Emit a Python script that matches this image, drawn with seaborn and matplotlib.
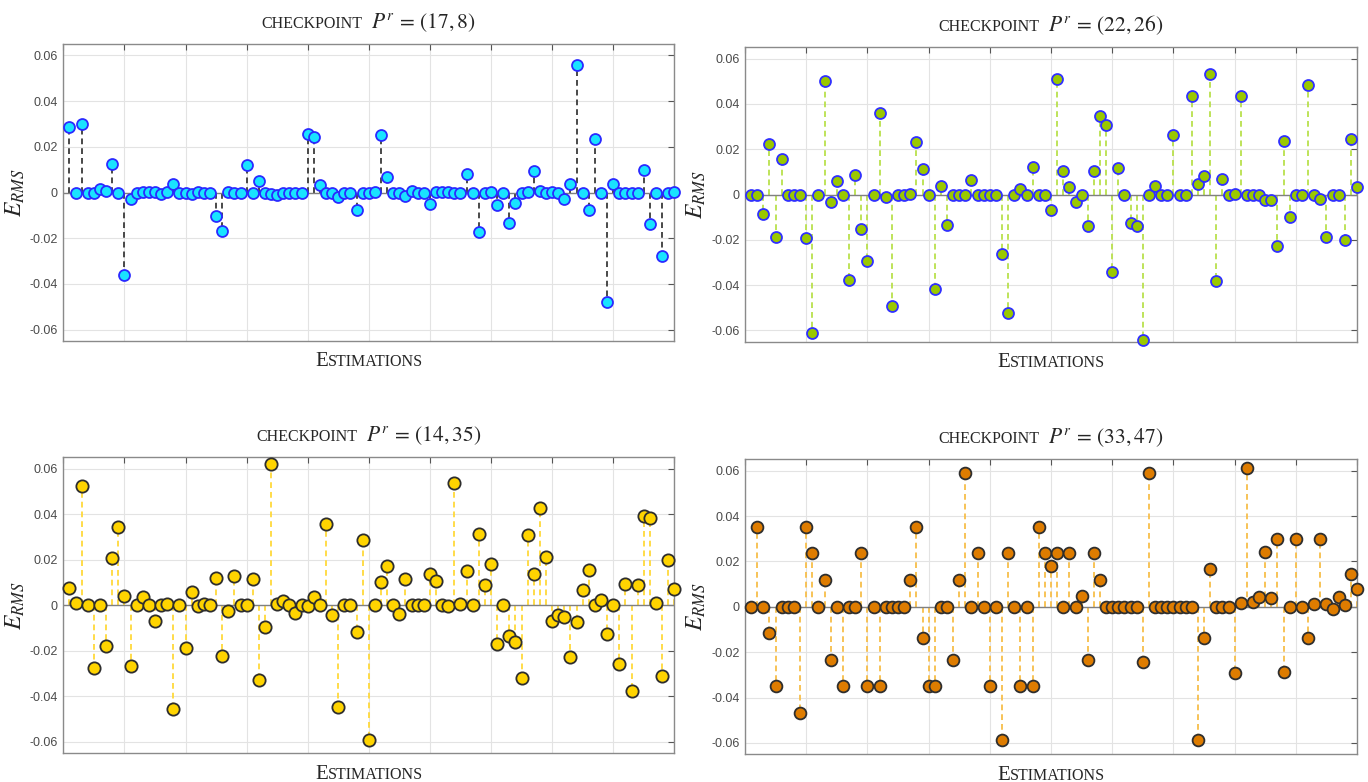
import numpy as np
import pandas as pd
import seaborn as sns
import matplotlib.pyplot as plt
from matplotlib.offsetbox import TextArea, HPacker, AnchoredOffsetbox
from matplotlib.ticker import FuncFormatter

# estimation index (x axis)
estimations = np.arange(1, 101)

# E_RMS per checkpoint
erms_17_8 = [
    0.0287, 0, 0.0299, 0, 0, 0.0016, 0.0007, 0.0126, 0, -0.0359,
    -0.0030, 0, 0.0003, 0.0004, 0.0003, -0.0005, 0.0002, 0.0037, 0, 0,
    -0.0005, 0.0004, 0, 0, -0.0103, -0.0167, 0.0004, 0, 0, 0.0120,
    0, 0.0051, -0.0003, -0.0006, -0.0009, 0, 0, 0, 0, 0.0258,
    0.0242, 0.0032, 0, 0, -0.0020, 0, 0, -0.0078, 0, 0,
    0.0003, 0.0252, 0.0066, 0, 0, -0.0015, 0.0006, 0, 0, -0.0050,
    0.0003, 0.0003, 0.0003, -0.0003, -0.0004, 0.0080, 0, -0.0174, 0, 0.0003,
    -0.0053, 0, -0.0135, -0.0048, -0.0003, 0.0003, 0.0095, 0.0006, 0, 0.0003,
    0, -0.0029, 0.0037, 0.0557, 0, -0.0078, 0.0234, 0, -0.0479, 0.0037,
    0, 0, 0, 0, 0.0100, -0.0136, 0, -0.0280, -0.0004, 0.0003,
]
erms_22_26 = [
    0, 0, -0.0085, 0.0224, -0.0189, 0.0155, 0, 0, 0, -0.0191,
    -0.0612, 0, 0.0500, -0.0032, 0.0059, 0, -0.0376, 0.0084, -0.0154, -0.0295,
    0, 0.0361, -0.0012, -0.0494, 0, 0, 0.0003, 0.0233, 0.0114, 0,
    -0.0418, 0.0037, -0.0135, 0, -0.0002, 0, 0.0062, -0.0003, 0, 0,
    0, -0.0263, -0.0521, 0, 0.0026, 0, 0.0122, 0, 0, -0.0070,
    0.0510, 0.0104, 0.0035, -0.0035, 0, -0.0141, 0.0103, 0.0345, 0.0308, -0.0343,
    0.0119, 0, -0.0126, -0.0138, -0.0644, 0, 0.0037, 0, 0, 0.0264,
    0, 0, 0.0433, 0.0047, 0.0082, 0.0531, -0.0380, 0.0070, 0, 0.0004,
    0.0433, 0, 0, 0, -0.0022, -0.0025, -0.0227, 0.0238, -0.0100, 0,
    0, 0.0484, 0, -0.0018, -0.0188, 0, 0, -0.0202, 0.0244, 0.0032,
]
erms_14_35 = [
    0.0075, 0.0010, 0.0523, 0, -0.0275, 0, -0.0177, 0.0208, 0.0344, 0.0042,
    -0.0268, 0, 0.0037, 0, -0.0069, 0, 0.0004, -0.0455, 0, -0.0186,
    0.0057, -0.0004, 0.0007, 0, 0.0119, -0.0224, -0.0026, 0.0127, 0, 0,
    0.0114, -0.0327, -0.0094, 0.0622, 0.0004, 0.0018, 0, -0.0035, 0, -0.0003,
    0.0035, 0, 0.0359, -0.0041, -0.0448, 0, 0, -0.0117, 0.0285, -0.0593,
    0, 0.0101, 0.0173, 0, -0.0040, 0.0117, 0, 0, 0, 0.0139,
    0.0105, 0, -0.0003, 0.0537, 0.0004, 0.0151, 0, 0.0312, 0.0089, 0.0183,
    -0.0168, 0, -0.0136, -0.0163, -0.0319, 0.0309, 0.0138, 0.0429, 0.0212, -0.0069,
    -0.0044, -0.0053, -0.0227, -0.0075, 0.0067, 0.0154, 0, 0.0022, -0.0126, 0,
    -0.0256, 0.0095, -0.0375, 0.0089, 0.0392, 0.0385, 0.0012, -0.0309, 0.0201, 0.0072,
]
erms_33_47 = [
    0, 0.0354, 0, -0.0117, -0.0351, 0, 0, 0, -0.0468, 0.0354,
    0.0237, 0, 0.0120, -0.0234, 0, -0.0351, 0, 0, 0.0237, -0.0351,
    0, -0.0351, 0, 0, 0, 0, 0.0120, 0.0354, -0.0139, -0.0351,
    -0.0351, 0, 0, -0.0234, 0.0120, 0.0589, 0, 0.0237, 0, -0.0351,
    0, -0.0585, 0.0237, 0, -0.0351, 0, -0.0351, 0.0354, 0.0237, 0.0179,
    0.0237, 0, 0.0237, 0, 0.0048, -0.0233, 0.0237, 0.0120, 0, 0,
    0, 0, 0, 0, -0.0244, 0.0589, 0, 0, 0, 0,
    0, 0, 0, -0.0585, -0.0139, 0.0168, 0, 0, 0, -0.0290,
    0.0018, 0.0613, 0.0020, 0.0045, 0.0241, 0.0041, 0.0297, -0.0288, 0, 0.0297,
    0, -0.0138, 0.0013, 0.0297, 0.0012, -0.0009, 0.0044, 0.0009, 0.0143, 0.0080,
]

checkpoints = ["(17,8)", "(22,26)", "(14,35)", "(33,47)"]
yticks = [-0.06, -0.04, -0.02, 0, 0.02, 0.04, 0.06]

sns.set_theme(style="whitegrid")
plt.rcParams["font.family"] = ["Liberation Sans", "DejaVu Sans"]
plt.rcParams["mathtext.fontset"] = "stix"

# (data, fill, edge, stem colour, marker area, axes rect)
panels = [
    (erms_17_8, "#19e3ff", "#2a2aff", "#3a3a3a", 62, [0.0463, 0.5639, 0.4466, 0.3798]),
    (erms_22_26, "#9ac800", "#3030ff", "#b9e04c", 62, [0.5446, 0.5630, 0.4474, 0.3765]),
    (erms_14_35, "#ffd400", "#2e2e2e", "#ffd93a", 78, [0.0463, 0.0367, 0.4466, 0.3785]),
    (erms_33_47, "#de7c00", "#2e2e2e", "#f7be4a", 72, [0.5446, 0.0354, 0.4474, 0.3772]),
]


def small_caps(ax, big, small, tail, y, loc, big_size, small_size):
    parts = []
    if big:
        parts.append(TextArea(big, textprops=dict(fontsize=big_size, family="Liberation Serif")))
    parts.append(TextArea(small, textprops=dict(fontsize=small_size, family="Liberation Serif")))
    if tail:
        parts.append(TextArea(tail, textprops=dict(fontsize=big_size, family="Liberation Serif")))
    box = HPacker(children=parts, align="baseline", pad=0, sep=0 if big else 6)
    anchored = AnchoredOffsetbox(loc=loc, child=box, pad=0, borderpad=0, frameon=False,
                                 bbox_to_anchor=(0.5, y), bbox_transform=ax.transAxes)
    ax.add_artist(anchored)


fig = plt.figure(figsize=(13.68, 7.82), dpi=100)

for (vals, fill, edge, stem, size, rect), cp in zip(panels, checkpoints):
    ax = fig.add_axes(rect)
    df = pd.DataFrame({"estimation": estimations, "erms": vals})

    ax.vlines(df["estimation"], 0, df["erms"], colors=stem, linestyles=(0, (3.2, 2.2)),
              linewidth=1.3, zorder=2)
    ax.axhline(0, color="#808080", linewidth=1.0, zorder=2.5)
    sns.scatterplot(data=df, x="estimation", y="erms", ax=ax, s=size, color=fill,
                    edgecolor=edge, linewidth=1.3, zorder=3, legend=False, clip_on=False)

    ax.set_xlim(0, 100)
    ax.set_ylim(-0.065, 0.065)
    ax.set_xticks(range(0, 101, 10))
    ax.set_yticks(yticks)
    ax.yaxis.set_major_formatter(FuncFormatter(lambda v, p: "0" if abs(v) < 1e-9 else f"{v:.2f}"))
    ax.tick_params(axis="both", direction="in", length=4, width=0.8, color="#555555",
                   top=True, right=True, labelbottom=False, labelsize=9,
                   labelcolor="#4a4a4a", pad=4)
    ax.grid(True, color="#e3e3e3", linewidth=0.8)
    ax.set_facecolor("white")
    for sp in ax.spines.values():
        sp.set_visible(True)
        sp.set_color("#8a8a8a")
        sp.set_linewidth(1.0)

    ax.set_xlabel("")
    ax.set_ylabel(r"$E_{RMS}$", fontsize=17)
    ax.yaxis.set_label_coords(-0.06, 0.5)

    small_caps(ax, "", "CHECKPOINT", r"$P^{r}\,=\," + cp + "$",
               1.035, "lower center", 15.5, 11.5)
    small_caps(ax, "E", "STIMATIONS", "", -0.038, "upper center", 15, 11.5)

fig.savefig("out.png", dpi=100)
